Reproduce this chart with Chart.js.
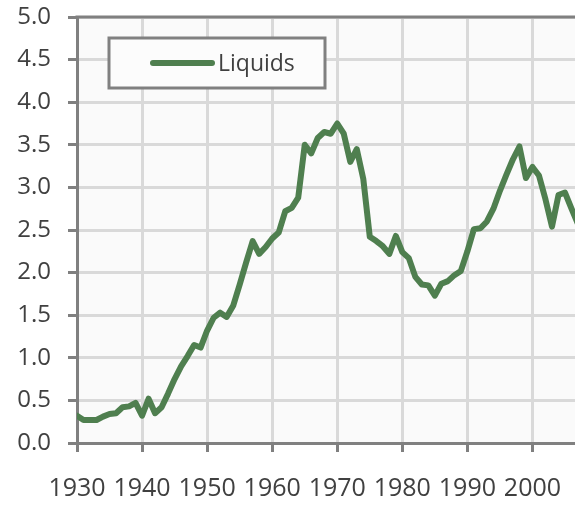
<!DOCTYPE html>
<html>
<head>
<meta charset="utf-8">
<script src="https://cdn.jsdelivr.net/npm/chart.js@4.4.1/dist/chart.umd.min.js"></script>
<style>
  html, body { margin: 0; padding: 0; background: #ffffff; overflow: hidden; }
  #wrap { width: 578px; height: 506px; }
</style>
</head>
<body>
<div id="wrap"><canvas id="chart" width="578" height="506"></canvas></div>
<script>
// Annual series, 1930-2007
const years = [
  1930, 1931, 1932, 1933, 1934, 1935, 1936, 1937, 1938, 1939,
  1940, 1941, 1942, 1943, 1944, 1945, 1946, 1947, 1948, 1949,
  1950, 1951, 1952, 1953, 1954, 1955, 1956, 1957, 1958, 1959,
  1960, 1961, 1962, 1963, 1964, 1965, 1966, 1967, 1968, 1969,
  1970, 1971, 1972, 1973, 1974, 1975, 1976, 1977, 1978, 1979,
  1980, 1981, 1982, 1983, 1984, 1985, 1986, 1987, 1988, 1989,
  1990, 1991, 1992, 1993, 1994, 1995, 1996, 1997, 1998, 1999,
  2000, 2001, 2002, 2003, 2004, 2005, 2006, 2007
]
const liquids = [
  0.32, 0.27, 0.27, 0.27, 0.31, 0.34, 0.35, 0.42, 0.43, 0.47,
  0.32, 0.52, 0.35, 0.42, 0.58, 0.75, 0.90, 1.02, 1.15, 1.12,
  1.32, 1.47, 1.53, 1.48, 1.61, 1.86, 2.12, 2.37, 2.22, 2.30,
  2.40, 2.47, 2.72, 2.76, 2.88, 3.50, 3.40, 3.58, 3.65, 3.63,
  3.75, 3.63, 3.30, 3.45, 3.10, 2.42, 2.37, 2.31, 2.22, 2.43,
  2.24, 2.17, 1.95, 1.86, 1.85, 1.73, 1.87, 1.90, 1.97, 2.02,
  2.25, 2.51, 2.52, 2.60, 2.75, 2.96, 3.15, 3.33, 3.48, 3.11,
  3.24, 3.14, 2.86, 2.54, 2.91, 2.94, 2.75, 2.57
]
const yTicks = [0, 0.5, 1.0, 1.5, 2.0, 2.5, 3.0, 3.5, 4.0, 4.5, 5.0]

const lineColor = "#4f7f4f"
const axisColor = "#808080"
const gridColor = "#d9d9d9"
const textColor = "#404040"
const fontFamily = "'Open Sans', 'Noto Sans', sans-serif"

// plot background, top border and the boxed legend
const frame = {
  id: "frame",
  beforeDatasetsDraw(chart) {
    const { ctx, chartArea: a } = chart
    ctx.save()
    ctx.fillStyle = "#fafafa"
    ctx.globalCompositeOperation = "destination-over"
    ctx.fillRect(a.left, a.top, a.right - a.left, a.bottom - a.top)
    ctx.restore()
  },
  afterDraw(chart) {
    const { ctx, chartArea: a } = chart
    ctx.save()
    ctx.strokeStyle = axisColor
    ctx.lineWidth = 3
    ctx.beginPath()
    ctx.moveTo(a.left - 1.5, a.top)
    ctx.lineTo(a.right, a.top)
    ctx.stroke()

    const ds = chart.data.datasets[0]
    const bx = a.left + 32, by = a.top + 21, bw = 216, bh = 50
    ctx.fillStyle = "#fcfcfc"
    ctx.fillRect(bx, by, bw, bh)
    ctx.strokeStyle = axisColor
    ctx.lineWidth = 3
    ctx.strokeRect(bx, by, bw, bh)

    const ly = by + bh / 2
    ctx.strokeStyle = ds.borderColor
    ctx.lineWidth = 6
    ctx.lineCap = "round"
    ctx.beginPath()
    ctx.moveTo(bx + 44, ly)
    ctx.lineTo(bx + 103, ly)
    ctx.stroke()

    ctx.fillStyle = textColor
    ctx.font = "23px " + fontFamily
    ctx.textBaseline = "middle"
    ctx.fillText(ds.label, bx + 109, ly + 1)
    ctx.restore()
  }
}

new Chart(document.getElementById("chart"), {
  type: "line",
  data: {
    datasets: [{
      label: "Liquids",
      data: years.map((yr, i) => ({ x: yr, y: liquids[i] })),
      borderColor: lineColor,
      borderWidth: 6,
      borderJoinStyle: "round",
      borderCapStyle: "round",
      pointRadius: 0,
      tension: 0,
      fill: false
    }]
  },
  options: {
    responsive: false,
    animation: false,
    layout: { padding: { top: 17, right: 0, left: 0, bottom: 0 } },
    plugins: {
      legend: { display: false },
      tooltip: { enabled: false }
    },
    scales: {
      x: {
        type: "linear",
        min: 1930,
        max: 2007,
        border: { color: axisColor, width: 3 },
        grid: {
          color: gridColor,
          lineWidth: 3,
          tickColor: axisColor,
          tickWidth: 3,
          tickLength: 9
        },
        ticks: {
          stepSize: 10,
          includeBounds: false,
          maxRotation: 0,
          autoSkip: false,
          padding: 22,
          color: textColor,
          font: { family: fontFamily, size: 25 },
          callback: (v) => String(v)
        },
        afterFit(scale) {
          scale.height = 63
          scale.paddingLeft = 0
          scale.paddingRight = 0
        }
      },
      y: {
        min: 0,
        max: 5,
        afterBuildTicks(scale) {
          scale.ticks = yTicks.map((v) => ({ value: v }))
        },
        border: { color: axisColor, width: 3 },
        grid: {
          color: gridColor,
          lineWidth: 3,
          tickColor: axisColor,
          tickWidth: 3,
          tickLength: 9
        },
        ticks: {
          padding: 17,
          color: textColor,
          font: { family: fontFamily, size: 24 },
          callback: (v) => v.toFixed(1)
        },
        afterFit(scale) {
          scale.width = 77
          scale.paddingTop = 0
          scale.paddingBottom = 0
        }
      }
    }
  },
  plugins: [frame]
})
</script>
</body>
</html>
